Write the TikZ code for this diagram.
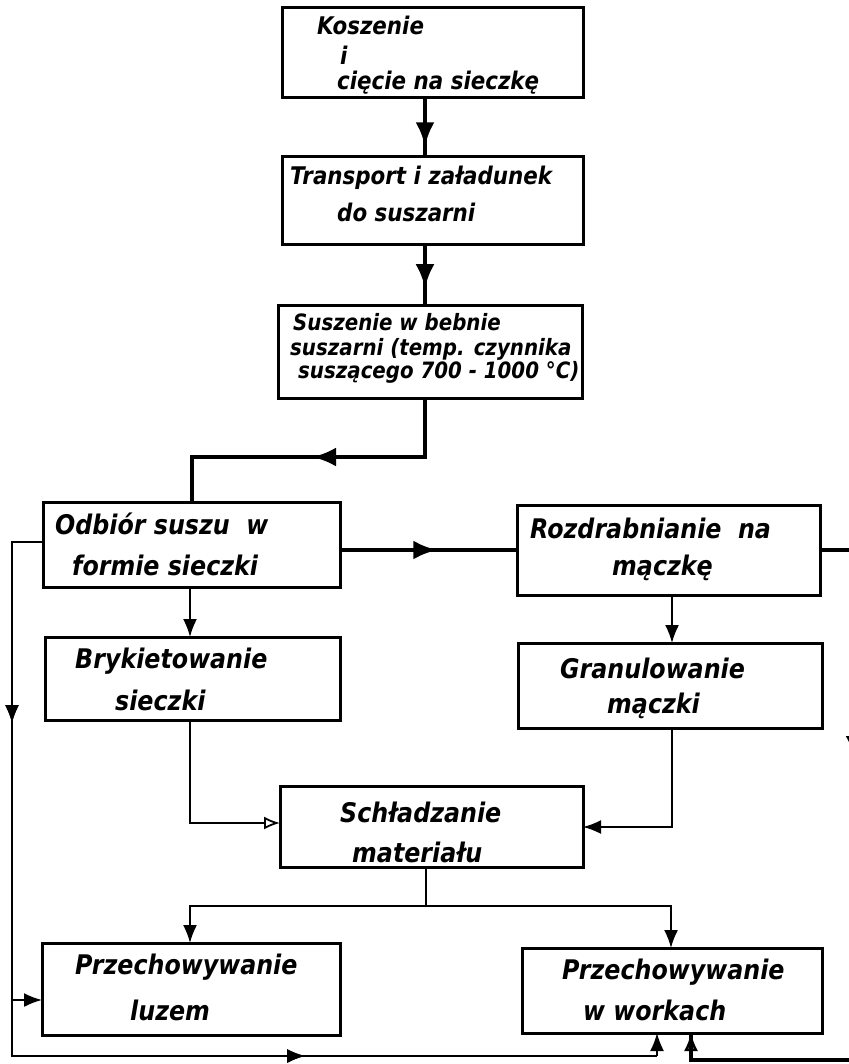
\documentclass[tikz,border=0pt]{standalone}
\usepackage{fontspec}
\setmainfont{DejaVu Sans}
\newfontfamily\letterfont[FakeStretch=0.88]{DejaVu Sans}
\usetikzlibrary{arrows.meta,decorations.markings}
\begin{document}
\begin{tikzpicture}[x=1pt,y=-1pt,
  box/.style={draw,line width=3pt,inner sep=0pt,outer sep=0pt},
  txtu/.style={anchor=west,inner sep=0pt,font=\letterfont\bfseries\itshape\fontsize{24.3}{25}\selectfont},
  txt/.style={anchor=west,inner sep=0pt,font=\letterfont\bfseries\itshape\fontsize{27}{27}\selectfont},
  txts/.style={anchor=west,inner sep=0pt,font=\letterfont\bfseries\itshape\fontsize{22.5}{23}\selectfont},
  flow/.style={line width=4.5pt},
  thinline/.style={line width=1.8pt},
  tipT/.tip={Latex[length=24pt,width=19pt]},
  tipS/.tip={Latex[length=18pt,width=14pt]},
  midT/.style={postaction={decorate},decoration={markings,mark=at position #1 with {\arrow{tipT}}}},
  midS/.style={postaction={decorate},decoration={markings,mark=at position #1 with {\arrow{tipS}}}},
  endS/.style={-{tipS}}
]
\useasboundingbox (0,0) rectangle (848,1064);
\fill[white] (0,0) rectangle (848,1064);

% boxes
\node[box,minimum width=301pt,minimum height=90pt] (b1) at (432.5,53) {};
\node[box,minimum width=301pt,minimum height=88pt] (b2) at (432.5,201) {};
\node[box,minimum width=304pt,minimum height=93pt] (b3) at (430,351.5) {};
\node[box,minimum width=297pt,minimum height=85pt] (odb) at (191.5,544.5) {};
\node[box,minimum width=303pt,minimum height=90pt] (roz) at (668.5,550) {};
\node[box,minimum width=295pt,minimum height=83pt] (bry) at (192.5,678.5) {};
\node[box,minimum width=304pt,minimum height=85pt] (gra) at (670,685.5) {};
\node[box,minimum width=303pt,minimum height=81pt] (sch) at (431.5,826.5) {};
\node[box,minimum width=298pt,minimum height=92pt] (luz) at (191,989) {};
\node[box,minimum width=300pt,minimum height=85pt] (wor) at (672,990.5) {};

% texts
\node[txtu] (t1a) at (317,25) {Koszenie};
\node[txtu] (t1b) at (340,55) {i};
\node[txtu] (t1c) at (337,83) {cięcie na sieczkę};
\node[txtu] (t2a) at (290,178) {Transport i załadunek};
\node[txtu] (t2b) at (337,212) {do suszarni};
\node[txts] (t3a) at (293,322) {Suszenie w bebnie};
\node[txts] (t3b) at (290,349) {suszarni (temp. czynnika};
\node[txts] (t3c) at (298,372) {suszącego 700 - 1000 °C)};
\node[txt] (t4a) at (55,524) {Odbiór suszu\ \ w};
\node[txt] (t4b) at (72,565) {formie sieczki};
\node[txt] (t5a) at (530,528) {Rozdrabnianie\ \ na};
\node[txt] (t5b) at (612,568) {mączkę};
\node[txt] (t6a) at (75,661) {Brykietowanie};
\node[txt] (t6b) at (115,700) {sieczki};
\node[txt] (t7a) at (560,668) {Granulowanie};
\node[txt] (t7b) at (607,706) {mączki};
\node[txt] (t8a) at (340,812) {Schładzanie};
\node[txt] (t8b) at (352,852) {materiału};
\node[txt] (t9a) at (75,967) {Przechowywanie};
\node[txt] (t9b) at (130,1010) {luzem};
\node[txt] (t10a) at (562,972) {Przechowywanie};
\node[txt] (t10b) at (583,1010) {w workach};

% coordinates
\coordinate (vx) at (425,0);
\coordinate (c3b) at (192,457);
\coordinate (l1) at (12,542);
\coordinate (l2) at (12,1056);
\coordinate (jl) at (12,1000);
\coordinate (l3) at (657,1056);
\coordinate (r1) at (855,550);
\coordinate (r2) at (855,1060);
\coordinate (r3) at (691,1060);
\coordinate (bl) at (190,823);
\coordinate (gr) at (672,827);
\coordinate (sj) at (426,906);
\coordinate (sjl) at (190,906);
\coordinate (sjr) at (671,906);

% thick main flow
\draw[flow,midT=0.82] (b1.south -| vx) -- (b2.north -| vx);
\draw[flow,midT=0.72] (b2.south -| vx) -- (b3.north -| vx);
\draw[flow,midT=172pt] (b3.south -| vx) -- (vx |- c3b) -- (c3b) -- (c3b |- odb.north);
\draw[flow,midT=0.55] (odb.east |- roz.west) -- (roz.west);
\draw[flow,midT=245pt] (roz.east) -- (r1) -- (r2) -- (r3) -- (wor.south -| r3);
\draw[line width=2.5pt,-{Latex[open,length=18pt,width=14pt]}] (r3) -- (wor.south -| r3);

% thin lines
\draw[thinline,midS=212pt,midS=838pt] (odb.west |- l1) -- (l1) -- (l2) -- (l3);
\draw[thinline,endS] (l3) -- (wor.south -| l3);
\draw[thinline,endS] (jl) -- (luz.west |- jl);
\draw[thinline,endS] (odb.south -| bl) -- (bry.north -| bl);
\draw[thinline,endS] (roz.south -| gr) -- (gra.north -| gr);
\draw[thinline,-{Latex[open,length=16pt,width=13pt]}] (bry.south -| bl) -- (bl) -- (sch.west |- bl);
\draw[thinline,endS] (gra.south -| gr) -- (gr) -- (sch.east |- gr);
\draw[thinline] (sch.south -| sj) -- (sj);
\draw[thinline,endS] (sj) -- (sjr) -- (wor.north -| sjr);
\draw[thinline,endS] (sj) -- (sjl) -- (luz.north -| sjl);
\end{tikzpicture}
\end{document}
